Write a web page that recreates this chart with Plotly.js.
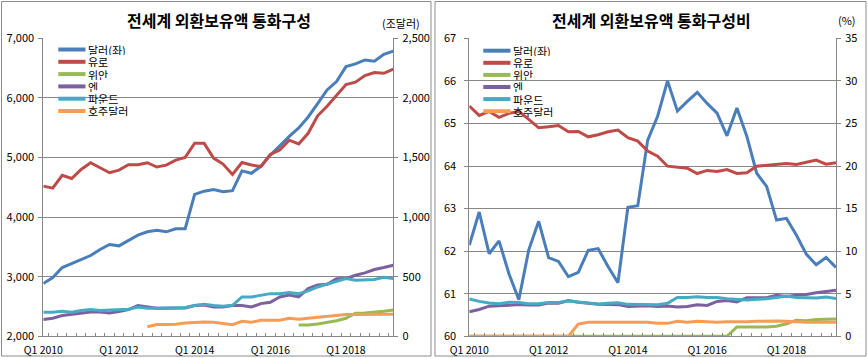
<!DOCTYPE html>
<html>
<head>
<meta charset="utf-8">
<script src="https://cdn.plot.ly/plotly-3.0.1.min.js"></script>
<style>
html,body{margin:0;padding:0;background:#fff;}
#chart{width:868px;height:358px;}
</style>
</head>
<body>
<div id="chart"></div>
<script>
// ---------- DATA ----------
const quarters = [
  'Q1 2010','Q2 2010','Q3 2010','Q4 2010','Q1 2011','Q2 2011','Q3 2011','Q4 2011',
  'Q1 2012','Q2 2012','Q3 2012','Q4 2012','Q1 2013','Q2 2013','Q3 2013','Q4 2013',
  'Q1 2014','Q2 2014','Q3 2014','Q4 2014','Q1 2015','Q2 2015','Q3 2015','Q4 2015',
  'Q1 2016','Q2 2016','Q3 2016','Q4 2016','Q1 2017','Q2 2017','Q3 2017','Q4 2017',
  'Q1 2018','Q2 2018','Q3 2018','Q4 2018','Q1 2019','Q2 2019'
];
const tickLabels = ['Q1 2010','Q1 2012','Q1 2014','Q1 2016','Q1 2018'];
const seriesNames = ['달러(좌)','유로','위안','엔','파운드','호주달러'];
const leftTitle = '전세계 외환보유액 통화구성';
const rightTitle = '전세계 외환보유액 통화구성비';
const leftUnit = '(조달러)';
const rightUnit = '(%)';

// Left chart: amounts (USD on left axis, others on right axis)
const usdAmt = [2885,2986,3154,3221,3288,3355,3456,3540,3518,3613,3697,3753,3781,3753,3803,3805,
  4382,4435,4462,4425,4443,4775,4735,4852,5040,5195,5355,5495,5680,5905,6134,6274,6525,6570,6637,6615,6730,6785];
const eurAmt = [1260,1243,1350,1324,1400,1456,1414,1372,1394,1439,1439,1456,1420,1436,1478,1501,
  1620,1620,1495,1445,1358,1458,1437,1424,1525,1563,1645,1614,1703,1850,1930,2018,2112,2132,2188,2213,2206,2242];
const cnyAmt = [null,null,null,null,null,null,null,null,null,null,null,null,null,null,null,null,
  null,null,null,null,null,null,null,null,null,null,null,95,95,103,115,131,151,193,196,202,210,221];
const jpyAmt = [140,151,174,185,196,204,204,196,207,224,258,246,235,235,235,238,
  258,263,246,246,258,258,246,274,286,330,347,330,400,431,437,482,484,512,532,560,577,596];
const gbpAmt = [202,202,210,202,216,224,216,218,224,227,246,235,235,238,241,241,
  258,269,258,252,260,330,330,347,358,358,367,358,381,414,437,456,484,470,476,476,496,484];
const audAmt = [null,null,null,null,null,null,null,null,null,null,null,80,99,100,102,112,
  118,120,118,105,98,126,118,134,134,134,151,143,151,159,168,176,182,182,182,182,185,185];

// Right chart: shares (USD on left axis, others on right axis)
const usdShare = [62.14,62.92,61.94,62.24,61.47,60.86,62.03,62.70,61.85,61.76,61.40,61.50,62.02,62.06,61.64,61.26,
  63.03,63.07,64.61,65.17,66.00,65.29,65.52,65.73,65.47,65.24,64.71,65.36,64.70,63.83,63.52,62.73,62.77,62.38,61.93,61.68,61.85,61.62];
const eurShare = [27.05,25.94,26.41,25.71,26.18,26.41,25.47,24.49,24.61,24.76,24.02,24.06,23.43,23.67,24.02,24.22,
  23.32,22.92,21.75,21.16,19.98,19.87,19.75,19.12,19.48,19.36,19.59,19.12,19.20,19.98,20.10,20.18,20.30,20.18,20.42,20.70,20.22,20.38];
const cnyShare = [0,0,0,0,0,0,0,0,0,0,0,0,0,0,0,0,0,0,0,0,0,0,0,0,0,0,0,
  1.10,1.10,1.10,1.10,1.19,1.47,1.89,1.82,1.96,2.04,2.04];
const jpyShare = [2.88,3.15,3.54,3.64,3.66,3.74,3.67,3.69,3.90,3.88,4.20,4.01,3.86,3.76,3.74,3.72,
  3.50,3.52,3.60,3.50,3.55,3.43,3.50,3.70,3.62,4.10,4.20,4.03,4.53,4.54,4.54,4.81,4.68,4.81,4.91,5.12,5.28,5.42];
const gbpShare = [4.38,4.10,3.92,3.82,4.01,3.96,3.82,3.82,3.98,3.96,4.14,4.02,3.87,3.79,3.87,3.95,
  3.75,3.75,3.71,3.71,3.87,4.57,4.57,4.65,4.57,4.57,4.41,4.34,4.26,4.34,4.41,4.57,4.73,4.57,4.49,4.49,4.61,4.45];
const audShare = [0,0,0,0,0,0,0,0,0,0,0,
  1.44,1.66,1.66,1.66,1.70,1.66,1.70,1.66,1.52,1.52,1.76,1.66,1.76,1.70,1.66,1.70,1.66,1.70,1.76,1.80,1.80,1.76,1.66,1.64,1.64,1.64,1.64];

// ---------- STYLE ----------
const colors = ['#4A7EBB','#BE4B48','#98B954','#7D60A0','#46AAC5','#F59D56'];
const W = 868, H = 358;
const px = x => x / W;
const py = y => 1 - y / H;
const FONT = '"Noto Sans CJK KR", "Malgun Gothic", sans-serif';
const gridC = '#878787';
const LW = 3;

const leftSeries = [usdAmt, eurAmt, cnyAmt, jpyAmt, gbpAmt, audAmt];
const rightSeries = [usdShare, eurShare, cnyShare, jpyShare, gbpShare, audShare];

const traces = [];
leftSeries.forEach((s, k) => {
  traces.push({
    type: 'scatter', mode: 'lines', x: quarters, y: s, name: seriesNames[k],
    xaxis: 'x', yaxis: k === 0 ? 'y' : 'y2',
    line: {color: colors[k], width: LW}, connectgaps: false, showlegend: false,
    hoverinfo: 'skip'
  });
});
rightSeries.forEach((s, k) => {
  traces.push({
    type: 'scatter', mode: 'lines', x: quarters, y: s, name: seriesNames[k],
    xaxis: 'x2', yaxis: k === 0 ? 'y3' : 'y4',
    line: {color: colors[k], width: LW}, showlegend: false,
    hoverinfo: 'skip'
  });
});

const tickFont = {family: FONT, size: 11, color: '#000'};
const xTickText = quarters.map(q => tickLabels.includes(q) ? q : '');

function xAxis(domain, anchor) {
  return {
    domain: domain, anchor: anchor, type: 'category',
    categoryorder: 'array', categoryarray: quarters,
    tickmode: 'array', tickvals: quarters, ticktext: xTickText,
    tickson: 'boundaries', ticks: 'inside', ticklen: 3, tickcolor: gridC,
    ticklabelstandoff: 4,
    showgrid: false, showline: true, linecolor: gridC, linewidth: 1,
    zeroline: false, tickfont: {family: FONT, size: 10.5, color: '#000'},
    tickangle: 0, fixedrange: true
  };
}
function yAxis(domain, anchor, range, dtick, side, grid, fmt, standoff) {
  return {
    domain: domain, anchor: anchor, range: range, dtick: dtick, tick0: range[0],
    side: side, showgrid: grid, gridcolor: gridC, gridwidth: 1,
    showline: true, linecolor: gridC, linewidth: 1,
    ticks: 'outside', ticklen: 4, tickcolor: gridC, ticklabelstandoff: standoff,
    zeroline: false, tickfont: tickFont, tickformat: fmt, fixedrange: true
  };
}
const yDom = [py(336.3), py(38.3)];
const layout = {
  width: W, height: H,
  margin: {l: 0, r: 0, t: 0, b: 0, pad: 0},
  paper_bgcolor: '#fff', plot_bgcolor: 'rgba(0,0,0,0)',
  showlegend: false,
  separators: '.,',
  xaxis: xAxis([px(43.3), px(393.3)], 'y'),
  yaxis: yAxis(yDom, 'x', [2000, 7000], 1000, 'left', true, ',d', 2),
  yaxis2: Object.assign(yAxis(yDom, 'x', [0, 2500], 500, 'right', false, ',d', 2), {overlaying: 'y'}),
  xaxis2: xAxis([px(469.3), px(836)], 'y3'),
  yaxis3: yAxis(yDom, 'x2', [60, 67], 1, 'left', true, 'd', 6),
  yaxis4: Object.assign(yAxis(yDom, 'x2', [0, 35], 5, 'right', false, 'd', 2), {overlaying: 'y3'}),
  shapes: [],
  annotations: []
};

// panel borders
layout.shapes.push({type: 'rect', xref: 'paper', yref: 'paper', x0: px(1.5), x1: px(431), y0: py(356), y1: py(1.5),
  line: {color: '#8c8c8c', width: 1}, layer: 'below'});
layout.shapes.push({type: 'rect', xref: 'paper', yref: 'paper', x0: px(435), x1: px(866), y0: py(356), y1: py(1.5),
  line: {color: '#8c8c8c', width: 1}, layer: 'below'});

// titles & units
layout.annotations.push({xref: 'paper', yref: 'paper', x: px(219), y: py(20), text: '<b>' + leftTitle + '</b>',
  showarrow: false, xanchor: 'center', yanchor: 'middle', font: {family: FONT, size: 16, color: '#000'}});
layout.annotations.push({xref: 'paper', yref: 'paper', x: px(651), y: py(20), text: '<b>' + rightTitle + '</b>',
  showarrow: false, xanchor: 'center', yanchor: 'middle', font: {family: FONT, size: 16, color: '#000'}});
layout.annotations.push({xref: 'paper', yref: 'paper', x: px(401), y: py(23), text: leftUnit,
  showarrow: false, xanchor: 'center', yanchor: 'middle', font: {family: FONT, size: 11, color: '#000'}});
layout.annotations.push({xref: 'paper', yref: 'paper', x: px(847), y: py(20), text: rightUnit,
  showarrow: false, xanchor: 'center', yanchor: 'middle', font: {family: FONT, size: 11, color: '#000'}});

// custom legends (compact rows as in the reference)
function addLegend(x0, x1, xt, y0, dy) {
  seriesNames.forEach((n, k) => {
    const yy = y0 + dy * k;
    layout.shapes.push({type: 'line', xref: 'paper', yref: 'paper', x0: px(x0), x1: px(x1), y0: py(yy), y1: py(yy),
      line: {color: colors[k], width: 4}});
    layout.annotations.push({xref: 'paper', yref: 'paper', x: px(xt), y: py(yy), text: n, showarrow: false,
      xanchor: 'left', yanchor: 'middle', height: 11, borderpad: 0,
      font: {family: FONT, size: 11, color: '#000'}});
  });
}
addLegend(58.3, 85.5, 87, 49.5, 12.3);
addLegend(483.3, 510.5, 512, 50.7, 12.1);

Plotly.newPlot('chart', traces, layout, {staticPlot: true, displayModeBar: false});
</script>
</body>
</html>
